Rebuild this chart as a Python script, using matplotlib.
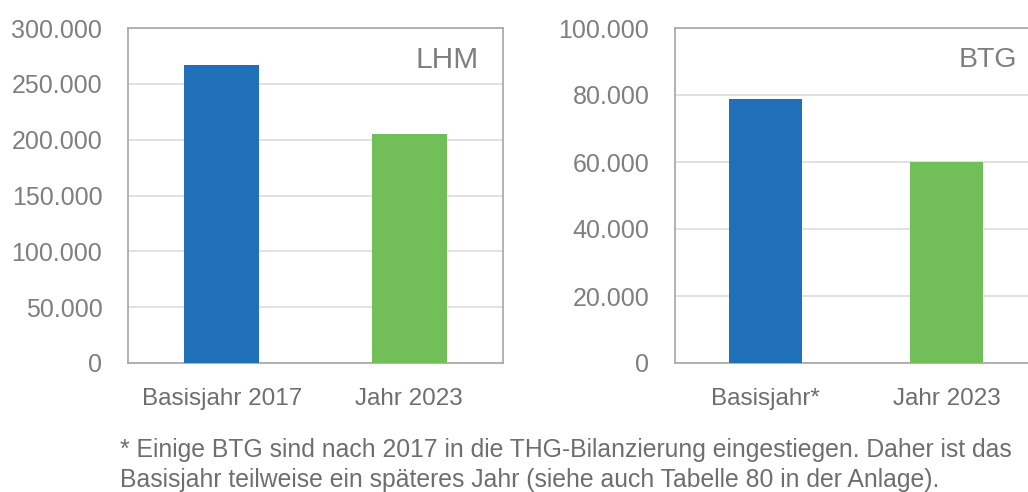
import matplotlib
matplotlib.use("Agg")
import matplotlib.pyplot as plt

categories_lhm = ["Basisjahr 2017", "Jahr 2023"]
values_lhm = [267000, 205000]
categories_btg = ["Basisjahr*", "Jahr 2023"]
values_btg = [78900, 59900]
ticks_lhm = [0, 50000, 100000, 150000, 200000, 250000, 300000]
ticks_btg = [0, 20000, 40000, 60000, 80000, 100000]
colors = ["#1f70b8", "#72bf5a"]
footnote = ("* Einige BTG sind nach 2017 in die THG-Bilanzierung eingestiegen. Daher ist das\n"
            "Basisjahr teilweise ein späteres Jahr (siehe auch Tabelle 80 in der Anlage).")

W, H = 1028, 492
fig = plt.figure(figsize=(W / 100, H / 100), dpi=100)
plt.rcParams['font.family'] = ['Liberation Sans', 'DejaVu Sans']

def fmt(v):
    return f"{v:,.0f}".replace(",", ".")

def panel(rect, cats, vals, ticks, label, lx, lsize):
    ax = fig.add_axes(rect)
    x = range(len(cats))
    ax.bar(x, vals, width=0.4, color=colors, zorder=3)
    ax.set_xlim(-0.5, 1.5)
    ax.set_ylim(0, ticks[-1])
    ax.set_yticks(ticks)
    ax.set_yticklabels([fmt(t) for t in ticks], color="#7f7f7f", fontsize=18)
    ax.set_xticks(list(x))
    ax.set_xticklabels(cats, color="#6e6e6e", fontsize=17.5)
    ax.tick_params(length=0)
    ax.tick_params(axis='y', pad=18.5)
    ax.tick_params(axis='x', pad=18)
    ax.grid(axis='y', color="#dcdcdc", linewidth=1.2, zorder=0)
    for s in ax.spines.values():
        s.set_color("#a6a6a6")
        s.set_linewidth(1.2)
    ax.text(lx, 0.905, label, transform=ax.transAxes, ha='right', va='center',
            fontsize=lsize, color="#7f7f7f")
    return ax

# left panel: x 128..503, y 28..363 (pixels)
panel([128 / W, 1 - 363 / H, 375 / W, 335 / H], categories_lhm, values_lhm, ticks_lhm,
      "LHM", 0.935, 21.5)
# right panel: x 675..1037 (extends past figure edge)
panel([675 / W, 1 - 363 / H, 362 / W, 335 / H], categories_btg, values_btg, ticks_btg,
      "BTG", 0.945, 20.5)

fig.text(120 / W, 1 - 465 / H, footnote, ha='left', va='center', fontsize=17.8,
         color="#6e6e6e", linespacing=1.3)

fig.savefig("out.png", dpi=100)
